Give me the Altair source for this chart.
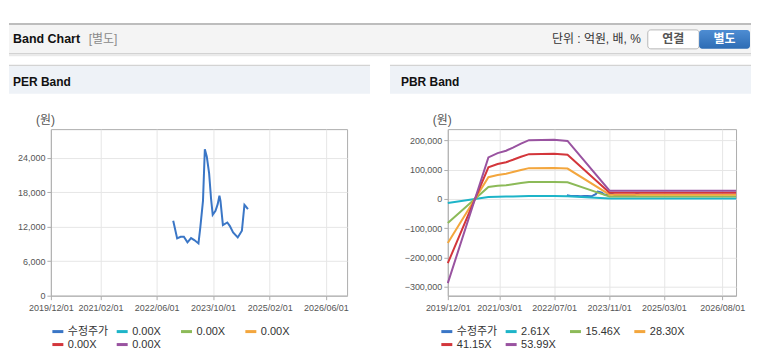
import altair as alt
import pandas as pd

# ---------------- data ----------------
price_dates = ["2022-10-22", "2022-11-25", "2022-12-25", "2023-01-22", "2023-02-22",
               "2023-03-25", "2023-04-22", "2023-05-28", "2023-06-13", "2023-07-06",
               "2023-07-22", "2023-08-08", "2023-08-28", "2023-09-14", "2023-09-28",
               "2023-10-22", "2023-11-10", "2023-11-25", "2023-12-04", "2023-12-25",
               "2024-02-01", "2024-02-22", "2024-03-22", "2024-05-01", "2024-06-06",
               "2024-06-28", "2024-07-06", "2024-07-28"]
price_values = [13040, 9970, 10260, 10260, 9280,
                10030, 9680, 9100, 11880, 16520,
                25500, 24200, 21300, 16800, 14100,
                14780, 15940, 17390, 16520, 12290,
                12750, 12170, 11010, 10140, 11300,
                15830, 15650, 15070]

band_dates = ["2019-12-01", "2020-11-25", "2021-02-15", "2021-05-01", "2021-07-01",
              "2021-09-10", "2021-11-20", "2022-06-30", "2022-10-28", "2023-11-05",
              "2026-12-01"]
band_2_61 = [-13910, 6864, 7569, 7960, 8483, 9135, 9709, 9788, 9579, 1357, 1357]
band_15_46 = [-82400, 40660, 44834, 47153, 50245, 54110, 57511, 57975, 56738, 8039, 8039]
band_28_30 = [-150839, 74429, 82070, 86315, 91975, 99050, 105276, 106125, 103861, 14716, 14716]
band_41_15 = [-219330, 108225, 119335, 125508, 133738, 144025, 153078, 154313, 151021, 21398, 21398]
band_53_99 = [-287767, 141994, 156571, 164670, 175468, 188965, 200843, 202463, 198143, 28075, 28075]

series_keys = ["price", "b1", "b2", "b3", "b4", "b5"]
per_labels = ["수정주가", "0.00X", "0.00X", "0.00X", "0.00X", "0.00X"]
pbr_labels = ["수정주가", "2.61X", "15.46X", "28.30X", "41.15X", "53.99X"]
series_colors = ["#3a76c6", "#1db4c8", "#8cba58", "#f3a63d", "#d3363b", "#9953a0"]

per_ticks = ["2019-12-01", "2021-02-01", "2022-06-01", "2023-10-01", "2025-02-01", "2026-06-01"]
pbr_ticks = ["2019-12-01", "2021-03-01", "2022-07-01", "2023-11-01", "2025-03-01", "2026-08-01"]
x_range = ["2019-12-01", "2026-12-01"]
per_y_ticks = [0, 6000, 12000, 18000, 24000]
pbr_y_ticks = [-300000, -200000, -100000, 0, 100000, 200000]
per_y_domain = [0, 29000]
pbr_y_domain = [-330500, 238500]

FONT = "Liberation Sans, Noto Sans CJK KR, sans-serif"


def dt(s):
    y, m, d = (int(v) for v in s.split("-"))
    return alt.DateTime(year=y, month=m, date=d, utc=True)


price_df = pd.DataFrame({"date": price_dates, "value": price_values, "series": "price"})
band_frames = []
for key, vals in zip(series_keys[1:], [band_2_61, band_15_46, band_28_30, band_41_15, band_53_99]):
    band_frames.append(pd.DataFrame({"date": band_dates, "value": vals, "series": key}))
band_df = pd.concat(band_frames, ignore_index=True)
one = pd.DataFrame({"a": [0]})


def label_expr(labels):
    keys = ",".join(f"'{k}'" for k in series_keys)
    labs = ",".join(f"'{l}'" for l in labels)
    return f"[{labs}][indexof([{keys}], datum.value)]"


def rect(x, x2, y, y2, color, **kw):
    return alt.Chart(one).mark_rect(color=color, **kw).encode(
        x=alt.value(x), x2=alt.value(x2), y=alt.value(y), y2=alt.value(y2))


def text(t, x, y, size=12, weight="normal", color="#333", align="left"):
    return alt.Chart(one).mark_text(text=t, align=align, baseline="middle", fontSize=size,
                                    fontWeight=weight, color=color, font=FONT).encode(
        x=alt.value(x), y=alt.value(y))


def panel(width, height, ticks, y_ticks, y_domain, labels, include_bands, legend_x, title,
          origin_x, panel_x0, panel_x1, title_x, top_bar):
    ox = origin_x
    oy = 128
    xenc = alt.X("date:T", title=None,
                 scale=alt.Scale(type="utc", domain=[dt(x_range[0]), dt(x_range[1])], nice=False),
                 axis=alt.Axis(values=[dt(t) for t in ticks],
                               labelExpr="utcFormat(datum.value, '%Y/%m/%d')",
                               labelOverlap=False, labelFlush=False))
    yenc = alt.Y("value:Q",
                 scale=alt.Scale(domain=y_domain, nice=False, zero=False),
                 axis=alt.Axis(values=y_ticks, format=",.0f", title="(원)", titleAngle=0,
                               titleX=-6, titleY=-10, titleAlign="center",
                               titleBaseline="middle", titleFontSize=12,
                               titleFontWeight="normal", titleColor="#555", titleFont=FONT))
    color = alt.Color("series:N",
                      scale=alt.Scale(domain=series_keys, range=series_colors),
                      legend=alt.Legend(orient="none", legendX=legend_x, legendY=196,
                                        direction="horizontal", columns=4, gridAlign="all",
                                        title=None, symbolType="stroke", symbolStrokeWidth=3,
                                        symbolSize=121, labelFontSize=11, labelColor="#333",
                                        labelFont=FONT, columnPadding=1.5, rowPadding=0,
                                        labelOffset=3, padding=0, labelExpr=label_expr(labels)))
    layers = []
    # panel header band
    layers.append(rect(panel_x0 - ox, panel_x1 - ox, 63.5 - oy, 65 - oy, "#d3d3d3"))
    layers.append(rect(panel_x0 - ox, panel_x1 - ox, 65 - oy, 92.5 - oy, "#eef2f7"))
    layers.append(text(title, title_x - ox, 80.5 - oy, size=12, weight="bold", color="#111"))
    if top_bar:
        # top header bar spanning the page
        layers.append(rect(8 - ox, 752 - ox, 21.5 - oy, 23.5 - oy, "#bdbdbd"))
        layers.append(rect(8 - ox, 752 - ox, 23.5 - oy, 52 - oy, "#f4f4f4"))
        layers.append(rect(8 - ox, 752 - ox, 52 - oy, 53 - oy, "#c4c4c4"))
        layers.append(rect(8 - ox, 752 - ox, 53 - oy, 55 - oy, "#e9e9e9"))
        layers.append(text("Band Chart", 12 - ox, 38 - oy, size=12.5, weight="bold", color="#111"))
        layers.append(text("[별도]", 88 - ox, 38 - oy, size=12, color="#8a8a8a"))
        layers.append(text("단위 : 억원, 배, %", 641.5 - ox, 38 - oy, size=12, color="#333", align="right"))
        layers.append(rect(648.5 - ox, 700 - ox, 28.5 - oy, 47.5 - oy, "#ffffff",
                           stroke="#b8b8b8", strokeWidth=1, cornerRadius=3))
        layers.append(alt.Chart(one).mark_rect(
            color=alt.LinearGradient(gradient="linear",
                                     stops=[alt.GradientStop(color="#4e8dd3", offset=0),
                                            alt.GradientStop(color="#2d6cb4", offset=1)],
                                     x1=0, x2=0, y1=0, y2=1),
            cornerRadius=3).encode(x=alt.value(700 - ox), x2=alt.value(751 - ox),
                                   y=alt.value(28.5 - oy), y2=alt.value(47.5 - oy)))
        layers.append(text("연결", 674 - ox, 38 - oy, size=12, weight="bold", color="#555", align="center"))
        layers.append(text("별도", 725.5 - ox, 38 - oy, size=12, weight="bold", color="#ffffff", align="center"))
    layers.append(alt.Chart(price_df).mark_line(strokeWidth=2).encode(
        x=xenc, y=yenc, color=color, detail="series:N"))
    if include_bands:
        layers.append(alt.Chart(band_df).mark_line(strokeWidth=2).encode(
            x=xenc, y=yenc, color=color, detail="series:N"))
    return alt.layer(*layers).properties(width=width, height=height)


left = panel(297, 167, per_ticks, per_y_ticks, per_y_domain, per_labels, False, 0,
             "PER Band", 50, 8, 370, 12, True)
right = panel(289, 167, pbr_ticks, pbr_y_ticks, pbr_y_domain, pbr_labels, True, -8,
              "PBR Band", 448, 390, 752, 401, False)

chart = alt.hconcat(left, right, spacing=101, bounds="flush").resolve_scale(
    x="independent", y="independent", color="independent"
).resolve_legend(color="independent").properties(
    padding={"left": 0, "top": 14, "right": 0, "bottom": 0}
).configure_view(stroke="#adadad", strokeWidth=1).configure_axis(
    labelFont=FONT, labelFontSize=9, labelColor="#555", gridColor="#e6e6e6",
    domainColor="#adadad", tickColor="#adadad", tickSize=4, labelPadding=2
).configure_axisX(labelPadding=4)

chart.save("out.html", embed_options={"renderer": "svg", "actions": False})
